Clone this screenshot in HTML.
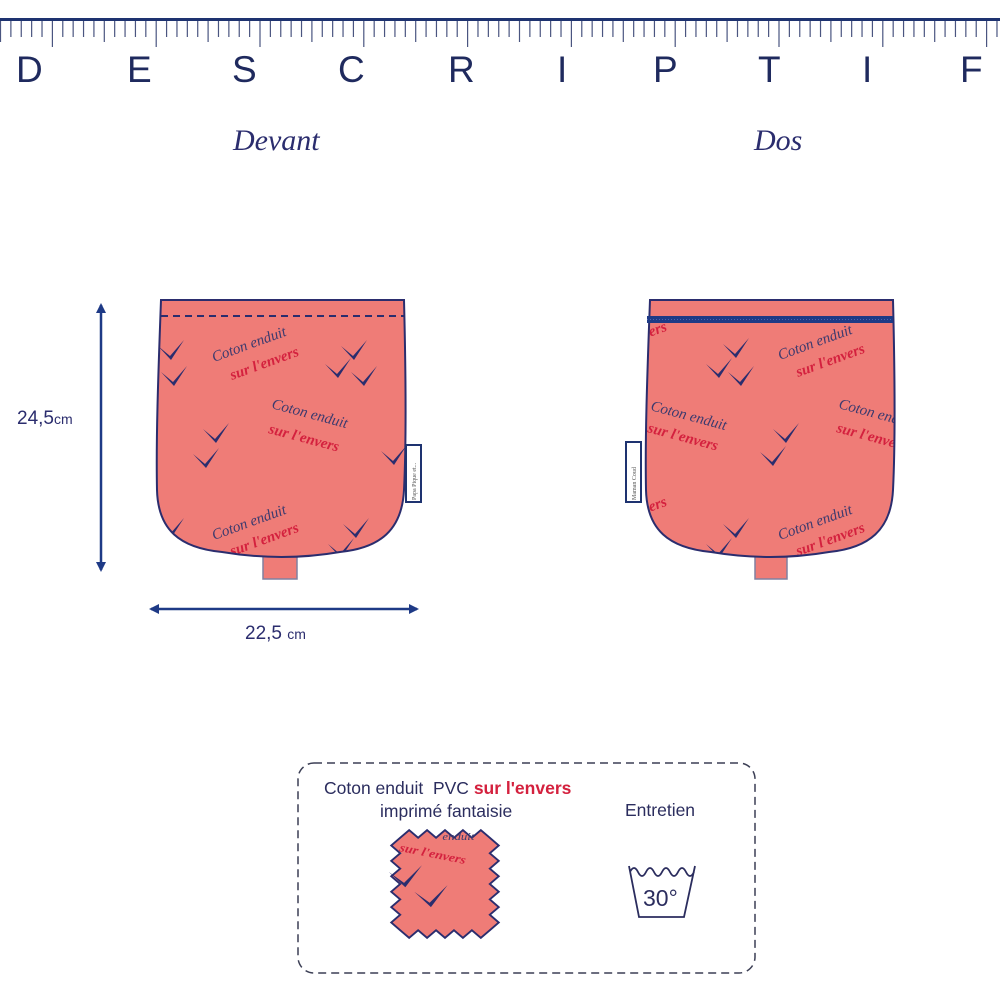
<!DOCTYPE html>
<html><head><meta charset="utf-8"><style>
body{margin:0;background:#fff;}
svg{display:block}
</style></head><body>
<svg width="1000" height="1000" viewBox="0 0 1000 1000" xmlns="http://www.w3.org/2000/svg">
<defs>
<marker id="ah" markerWidth="10" markerHeight="10" refX="8" refY="5" orient="auto-start-reverse" markerUnits="userSpaceOnUse">
<path d="M0,0 L10,5 L0,10 Z" fill="#1e3a86"/></marker>
<g id="bird"><path d="M-12,-6 L0,4 L14,-12 L1,8 Z" fill="#2b2d6e"/></g>
<clipPath id="cf"><path d="M161,300 L404,300 C406,380 406,450 404,490 C402,530 380,548 340,552 Q282,562 222,552 C180,548 158,530 157,490 C156,440 158,380 161,300 Z"/></clipPath>
<clipPath id="cd"><path d="M650,300 L893,300 C895,380 895,450 893,490 C891,530 869,548 829,552 Q771,562 711,552 C669,548 647,530 646,490 C645,440 647,380 650,300 Z"/></clipPath>
</defs>
<rect x="0" y="18" width="1000" height="3" fill="#1e3370"/>
<g id="ticks" stroke="#4a5580" stroke-width="1.2"></g>
<g fill="#1f2a5e" font-family="Liberation Sans, sans-serif" font-size="37">
<text x="16" y="82">D</text><text x="127" y="82">E</text><text x="232" y="82">S</text><text x="338" y="82">C</text><text x="448" y="82">R</text><text x="557" y="82">I</text><text x="653" y="82">P</text><text x="758" y="82">T</text><text x="862" y="82">I</text><text x="960" y="82">F</text>
</g>
<g fill="#2b2d6e" font-family="Liberation Serif, serif" font-style="italic" font-size="30">
<text x="233" y="150">Devant</text><text x="754" y="150">Dos</text>
</g>
<!-- front -->
<rect x="263" y="550" width="34" height="29" fill="#ef7c77" stroke="#8080a0" stroke-width="1.5"/>
<path d="M161,300 L404,300 C406,380 406,450 404,490 C402,530 380,548 340,552 Q282,562 222,552 C180,548 158,530 157,490 C156,440 158,380 161,300 Z" fill="#ef7c77"/>
<g clip-path="url(#cf)">
<line x1="161" y1="316" x2="404" y2="316" stroke="#2b2d6e" stroke-width="2" stroke-dasharray="7,5"/>
<use href="#bird" x="170" y="352"/><use href="#bird" x="173" y="378"/>
<use href="#bird" x="353" y="352"/><use href="#bird" x="337" y="370"/><use href="#bird" x="363" y="378"/>
<use href="#bird" x="215" y="435"/><use href="#bird" x="205" y="460"/><use href="#bird" x="393" y="457"/>
<use href="#bird" x="170" y="530"/><use href="#bird" x="355" y="530"/><use href="#bird" x="340" y="550"/>
<g font-family="Liberation Serif, serif" font-style="italic" font-size="15">
<text x="214" y="362" fill="#3c3a6e" transform="rotate(-20 214 362)">Coton enduit</text>
<text x="232" y="380" fill="#d4213e" font-weight="bold" transform="rotate(-20 232 380)">sur l'envers</text>
<text x="271" y="408" fill="#3c3a6e" transform="rotate(15 271 408)">Coton enduit</text>
<text x="268" y="433" fill="#d4213e" font-weight="bold" transform="rotate(15 268 433)">sur l'envers</text>
<text x="214" y="540" fill="#3c3a6e" transform="rotate(-20 214 540)">Coton enduit</text>
<text x="232" y="556" fill="#d4213e" font-weight="bold" transform="rotate(-20 232 556)">sur l'envers</text>
</g></g>
<path d="M161,300 L404,300 C406,380 406,450 404,490 C402,530 380,548 340,552 Q282,562 222,552 C180,548 158,530 157,490 C156,440 158,380 161,300 Z" fill="none" stroke="#2b2d6e" stroke-width="2"/>
<rect x="406" y="445" width="15" height="57" fill="#fff" stroke="#1e3370" stroke-width="2"/>
<text x="0" y="0" transform="translate(416,500) rotate(-90)" font-size="6" fill="#555" font-family="Liberation Serif, serif">Papa Pique et...</text>
<!-- dos -->
<rect x="755" y="550" width="32" height="29" fill="#ef7c77" stroke="#8080a0" stroke-width="1.5"/>
<path d="M650,300 L893,300 C895,380 895,450 893,490 C891,530 869,548 829,552 Q771,562 711,552 C669,548 647,530 646,490 C645,440 647,380 650,300 Z" fill="#ef7c77"/>
<g clip-path="url(#cd)">
<use href="#bird" x="735" y="350"/><use href="#bird" x="718" y="370"/><use href="#bird" x="740" y="378"/>
<use href="#bird" x="785" y="435"/><use href="#bird" x="772" y="458"/>
<use href="#bird" x="735" y="530"/><use href="#bird" x="718" y="550"/>
<g font-family="Liberation Serif, serif" font-style="italic" font-size="15">
<text x="780" y="360" fill="#3c3a6e" transform="rotate(-20 780 360)">Coton enduit</text>
<text x="798" y="377" fill="#d4213e" font-weight="bold" transform="rotate(-20 798 377)">sur l'envers</text>
<text x="650" y="410" fill="#3c3a6e" transform="rotate(15 650 410)">Coton enduit</text>
<text x="647" y="432" fill="#d4213e" font-weight="bold" transform="rotate(15 647 432)">sur l'envers</text>
<text x="838" y="408" fill="#3c3a6e" transform="rotate(15 838 408)">Coton enduit</text>
<text x="836" y="432" fill="#d4213e" font-weight="bold" transform="rotate(15 836 432)">sur l'envers</text>
<text x="780" y="540" fill="#3c3a6e" transform="rotate(-20 780 540)">Coton enduit</text>
<text x="798" y="556" fill="#d4213e" font-weight="bold" transform="rotate(-20 798 556)">sur l'envers</text>
<text x="600" y="355" fill="#d4213e" font-weight="bold" transform="rotate(-20 600 355)">sur l'envers</text>
<text x="600" y="530" fill="#d4213e" font-weight="bold" transform="rotate(-20 600 530)">sur l'envers</text>
</g></g>
<path d="M650,300 L893,300 C895,380 895,450 893,490 C891,530 869,548 829,552 Q771,562 711,552 C669,548 647,530 646,490 C645,440 647,380 650,300 Z" fill="none" stroke="#2b2d6e" stroke-width="2"/>
<rect x="647" y="316" width="246" height="7" fill="#1e3a86"/>
<line x1="647" y1="319.5" x2="893" y2="319.5" stroke="#4a64b0" stroke-width="1" stroke-dasharray="1,2"/>
<rect x="626" y="442" width="15" height="60" fill="#fff" stroke="#1e3370" stroke-width="2"/>
<text x="0" y="0" transform="translate(636,500) rotate(-90)" font-size="6" fill="#555" font-family="Liberation Serif, serif">Maman Coud</text>
<!-- dimensions -->
<line x1="101" y1="305" x2="101" y2="570" stroke="#1e3a86" stroke-width="2.5" marker-start="url(#ah)" marker-end="url(#ah)"/>
<line x1="151" y1="609" x2="417" y2="609" stroke="#1e3a86" stroke-width="2.5" marker-start="url(#ah)" marker-end="url(#ah)"/>
<g fill="#2b2d6e" font-family="Liberation Sans, sans-serif" font-size="19">
<text x="17" y="424">24,5<tspan font-size="14">cm</tspan></text>
<text x="245" y="639">22,5 <tspan font-size="14">cm</tspan></text>
</g>
<!-- info box -->
<rect x="298" y="763" width="457" height="210" rx="16" fill="none" stroke="#3c3f55" stroke-width="1.5" stroke-dasharray="8,5"/>
<g font-family="Liberation Sans, sans-serif" font-size="17.5" fill="#2b2d5e">
<text x="324" y="794">Coton enduit&#160; PVC <tspan fill="#d4213e" font-weight="bold">sur l'envers</tspan></text>
<text x="380" y="817">imprimé fantaisie</text>
<text x="625" y="816">Entretien</text>
</g>
<g transform="translate(445,884) scale(1.28,1.1) translate(-440,-875)">
<path d="M405,833 l7,-7 l7,7 l7,-7 l7,7 l7,-7 l7,7 l7,-7 l7,7 l7,-7 l7,7 l7,7 l-7,7 l7,7 l-7,7 l7,7 l-7,7 l7,7 l-7,7 l7,7 l-7,7 l7,7 l-7,7 l-7,7 l-7,-7 l-7,7 l-7,-7 l-7,7 l-7,-7 l-7,7 l-7,-7 l-7,7 l-7,-7 l-7,-7 l7,-7 l-7,-7 l7,-7 l-7,-7 l7,-7 l-7,-7 l7,-7 l-7,-7 l7,-7 l-7,-7 l7,-7 Z" fill="#ef7c77" stroke="#2b2d6e" stroke-width="1.6"/>
<text x="404" y="845" fill="#d4213e" font-weight="bold" font-family="Liberation Serif, serif" font-style="italic" font-size="11" transform="rotate(13 404 845)">sur l'envers</text>
<text x="438" y="835" fill="#3c3a6e" font-family="Liberation Serif, serif" font-style="italic" font-size="10">enduit</text>
<use href="#bird" x="408" y="870"/><use href="#bird" x="428" y="888"/>
</g>
<path d="M630,872 q4,-8 8,0 q4,8 8,0 q4,-8 8,0 q4,8 8,0 q4,-8 8,0 q4,8 8,0 q4,-8 8,0 q4,8 8,0 M629,866 L639,917 L684,917 L695,866" fill="none" stroke="#2b2d5e" stroke-width="1.8"/>
<text x="643" y="906" font-family="Liberation Sans, sans-serif" font-size="23" fill="#2b2d5e">30°</text>
</svg>
<script>
var g=document.getElementById('ticks'),s='';
for(var i=0;i<=97;i++){var x=0.5+i*10.38;var L;
if(i%10==5)L=47;else if(i%5==0)L=42;else L=37;
s+='<line x1="'+x+'" y1="21" x2="'+x+'" y2="'+L+'"/>';}
g.innerHTML=s;
</script>
</body></html>
